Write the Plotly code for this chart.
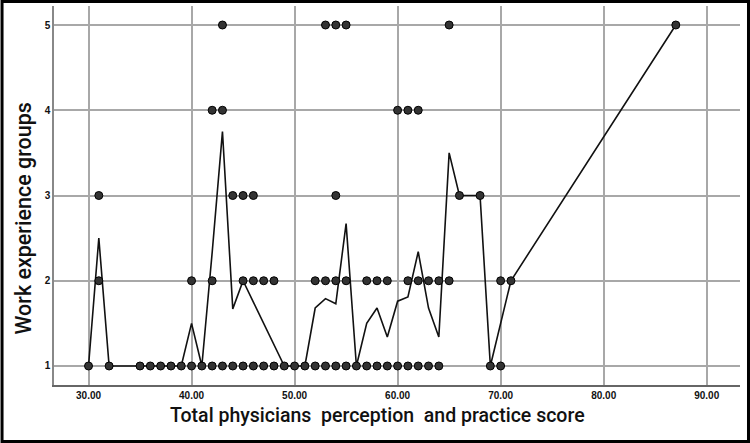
import plotly.graph_objects as go

# Mean line (work experience group mean by score)
line_x = [30, 31, 32, 35, 36, 37, 38, 39, 40, 41, 42, 43, 44, 45, 46, 47, 48, 49, 50, 51,
          52, 53, 54, 55, 56, 57, 58, 59, 60, 61, 62, 63, 64, 65, 66, 68, 69, 70, 71, 87]
line_y = [1, 2.5, 1, 1, 1, 1, 1, 1, 1.5, 1, 2.33, 3.75, 1.67, 2, 1.75, 1.5, 1.25, 1, 1, 1,
          1.68, 1.79, 1.73, 2.67, 1, 1.5, 1.68, 1.34, 1.76, 1.81, 2.34, 1.68, 1.34, 3.5, 3, 3, 1, 1.5, 2, 5]

# Observed points by group
g1_x = [30, 32, 35, 36, 37, 38, 39, 40, 41, 42, 43, 44, 45, 46, 47, 48, 49, 50, 51,
        52, 53, 54, 55, 56, 57, 58, 59, 60, 61, 62, 63, 64, 69, 70]
g2_x = [31, 40, 42, 45, 46, 47, 48, 52, 53, 54, 55, 57, 58, 59, 61, 62, 63, 64, 65, 70, 71]
g3_x = [31, 44, 45, 46, 54, 66, 68]
g4_x = [42, 43, 60, 61, 62]
g5_x = [43, 53, 54, 55, 65, 87]

pts_x = g1_x + g2_x + g3_x + g4_x + g5_x
pts_y = [1] * len(g1_x) + [2] * len(g2_x) + [3] * len(g3_x) + [4] * len(g4_x) + [5] * len(g5_x)

x_ticks = [30, 40, 50, 60, 70, 80, 90]
x_ticklabels = ["30.00", "40.00", "50.00", "60.00", "70.00", "80.00", "90.00"]
y_ticks = [1, 2, 3, 4, 5]

fig = go.Figure()
fig.add_trace(go.Scatter(x=line_x, y=line_y, mode="lines",
                         line=dict(color="#111111", width=1.6), showlegend=False))
fig.add_trace(go.Scatter(x=pts_x, y=pts_y, mode="markers",
                         marker=dict(size=8, color="#333333", line=dict(color="#000000", width=1)),
                         showlegend=False))

L, R, T, B = 53.5, 10, 6, 58
W, H = 750, 443
pw, ph = W - L - R, H - T - B

fig.update_layout(
    width=W, height=H,
    margin=dict(l=L, r=R, t=T, b=B),
    paper_bgcolor="white", plot_bgcolor="white",
    font=dict(family="Liberation Sans, Arial, sans-serif", color="#111111"),
    xaxis=dict(range=[26.65, 93.23], tickvals=x_ticks, ticktext=x_ticklabels,
               showgrid=True, gridcolor="#a8a8a8", gridwidth=1.5,
               showline=True, linecolor="#666666", linewidth=1.5,
               ticks="", tickfont=dict(size=10, color="#111111", weight="bold"), zeroline=False),
    yaxis=dict(range=[0.777, 5.223], tickvals=y_ticks,
               showgrid=True, gridcolor="#a8a8a8", gridwidth=1.5,
               showline=True, linecolor="#888888", linewidth=1.5,
               ticks="", tickfont=dict(size=10, color="#111111", weight="bold"), zeroline=False),
    annotations=[
        dict(text="Total physicians  perception  and practice score", xref="paper", yref="paper",
             x=(377 - L) / pw, y=(H - B - 415) / ph, xanchor="center", yanchor="middle",
             showarrow=False, font=dict(family="Roboto, Liberation Sans, sans-serif",
                                        size=19.5, color="#111111", weight=500)),
        dict(text="Work experience groups", xref="paper", yref="paper",
             x=(22 - L) / pw, y=(H - B - 219) / ph, xanchor="center", yanchor="middle",
             textangle=-90, showarrow=False, font=dict(family="Roboto, Liberation Sans, sans-serif",
                                                       size=21.5, color="#111111", weight=500)),
    ],
    shapes=[
        dict(type="rect", xref="paper", yref="paper",
             x0=(1.5 - L) / pw, x1=(W - 1.5 - L) / pw,
             y0=(H - B - (H - 1.5)) / ph, y1=(H - B - 1.5) / ph,
             line=dict(color="#000000", width=3), fillcolor="rgba(0,0,0,0)"),
    ],
)

fig.write_html("out.html")
